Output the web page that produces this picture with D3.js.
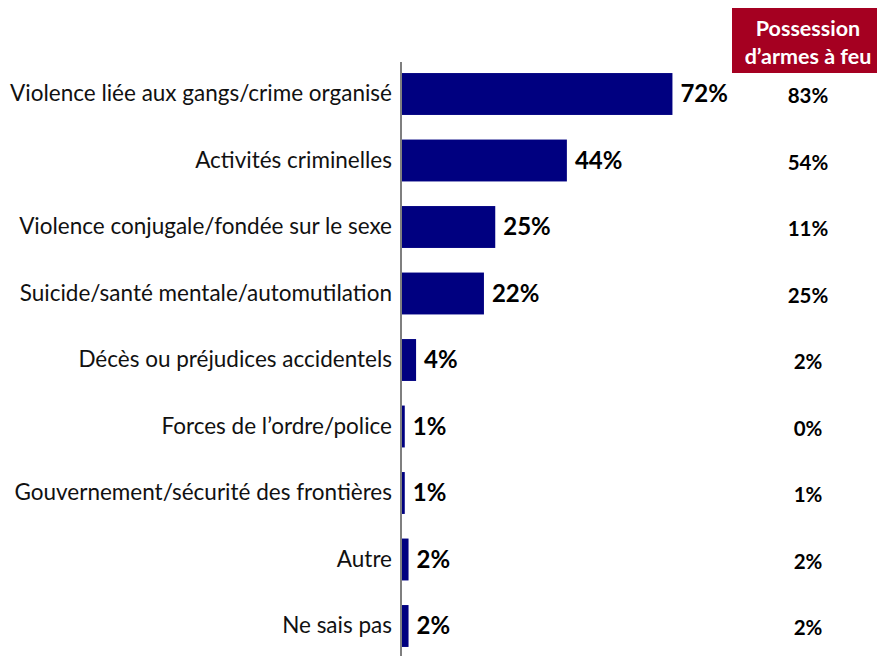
<!DOCTYPE html>
<html>
<head>
<meta charset="utf-8">
<script src="https://cdn.jsdelivr.net/npm/d3@7"></script>
<style>
  html, body { margin: 0; padding: 0; background: #ffffff; }
  svg { display: block; }
</style>
</head>
<body>
<svg id="chart" width="880" height="656"></svg>
<script>
// Categories (top to bottom)
const categories = [
  "Violence liée aux gangs/crime organisé",
  "Activités criminelles",
  "Violence conjugale/fondée sur le sexe",
  "Suicide/santé mentale/automutilation",
  "Décès ou préjudices accidentels",
  "Forces de l’ordre/police",
  "Gouvernement/sécurité des frontières",
  "Autre",
  "Ne sais pas"
];
// Main series (%)
const values = [72, 44, 25, 22, 4, 1, 1, 2, 2];
// Comparison column: firearm possession (%)
const possession = [83, 54, 11, 25, 2, 0, 1, 2, 2];
const headerLines = ["Possession", "d’armes à feu"];

const FONT = "Lato, 'Open Sans', sans-serif";
const svg = d3.select("#chart");

const x = d3.scaleLinear().domain([0, 100]).range([401, 778]);
const y = d3.scaleBand().domain(categories).range([60.75, 659.25]).paddingInner(0.37).paddingOuter(0.185);

// Bars
svg.append("g").selectAll("rect")
  .data(categories)
  .join("rect")
  .attr("x", x(0))
  .attr("y", d => y(d))
  .attr("width", (d, i) => x(values[i]) - x(0))
  .attr("height", y.bandwidth())
  .attr("fill", "#000080");

// Category axis (labels only, plus vertical line)
const axis = d3.axisLeft(y).tickSize(0).tickPadding(9);
const gAxis = svg.append("g").attr("transform", `translate(${x(0)},0)`).call(axis);
gAxis.select(".domain").remove();
gAxis.selectAll("text")
  .attr("font-family", FONT)
  .attr("font-size", 22.5)
  .attr("fill", "#111");

svg.append("line")
  .attr("x1", x(0)).attr("x2", x(0))
  .attr("y1", 62).attr("y2", 656)
  .attr("stroke", "#7f7f7f").attr("stroke-width", 2);

// Value labels
svg.append("g").selectAll("text")
  .data(categories)
  .join("text")
  .attr("x", (d, i) => x(values[i]) + 8)
  .attr("y", d => y(d) + y.bandwidth() / 2)
  .attr("dy", "0.35em")
  .attr("font-family", FONT)
  .attr("font-size", 24)
  .attr("font-weight", "bold")
  .attr("fill", "#000")
  .text((d, i) => values[i] + "%");

// Header box for comparison column
const colX = 808;
svg.append("rect")
  .attr("x", 732).attr("y", 8)
  .attr("width", 145).attr("height", 65)
  .attr("fill", "#A50021");
svg.append("g").selectAll("text")
  .data(headerLines)
  .join("text")
  .attr("x", colX)
  .attr("y", (d, i) => 36 + i * 28)
  .attr("text-anchor", "middle")
  .attr("font-family", FONT)
  .attr("font-size", 21.5)
  .attr("font-weight", "bold")
  .attr("fill", "#ffffff")
  .text(d => d);

// Comparison column values
svg.append("g").selectAll("text")
  .data(categories)
  .join("text")
  .attr("x", colX)
  .attr("y", d => y(d) + y.bandwidth() / 2 + 2)
  .attr("dy", "0.35em")
  .attr("text-anchor", "middle")
  .attr("font-family", FONT)
  .attr("font-size", 20.5)
  .attr("font-weight", "bold")
  .attr("fill", "#000")
  .text((d, i) => possession[i] + "%");
</script>
</body>
</html>
